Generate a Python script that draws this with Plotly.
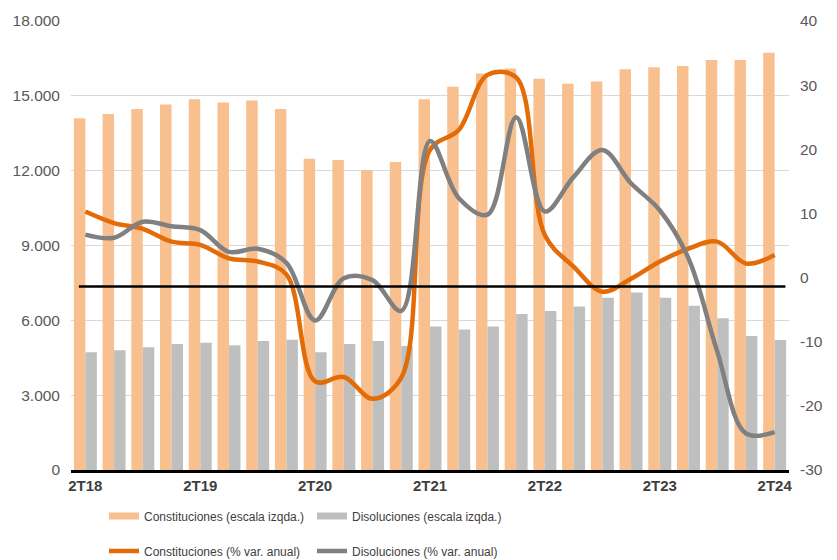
import plotly.graph_objects as go

categories = ["2T18", "3T18", "4T18", "1T19", "2T19", "3T19", "4T19", "1T20", "2T20", "3T20", "4T20", "1T21",
              "2T21", "3T21", "4T21", "1T22", "2T22", "3T22", "4T22", "1T23", "2T23", "3T23", "4T23", "1T24", "2T24"]
tick_labels = ["2T18", "2T19", "2T20", "2T21", "2T22", "2T23", "2T24"]

constituciones = [14100, 14270, 14470, 14650, 14860, 14730, 14810, 14470, 12480, 12430, 12030, 12350,
                  14860, 15360, 15900, 16100, 15680, 15480, 15570, 16070, 16150, 16200, 16440, 16440, 16730]
disoluciones = [4720, 4800, 4920, 5050, 5100, 5000, 5170, 5220, 4720, 5050, 5170, 4970,
                5750, 5630, 5750, 6250, 6370, 6550, 6910, 7120, 6910, 6580, 6080, 5370, 5210]
constituciones_var = [10.3, 8.5, 7.6, 5.6, 5.1, 3.0, 2.5, 0.5, -16.2, -15.5, -18.9, -15.6,
                      19.9, 23.0, 31.6, 31.2, 6.6, 1.7, -2.2, -0.2, 2.5, 4.5, 5.6, 2.2, 3.5]
disoluciones_var = [6.7, 6.2, 8.7, 8.0, 7.4, 4.0, 4.5, 2.3, -6.7, -0.1, -0.4, -5.2,
                    21.3, 12.4, 9.8, 25.0, 10.3, 15.7, 19.9, 14.7, 10.5, 3.0, -11.5, -24.3, -24.1]

left_ticks = [0, 3000, 6000, 9000, 12000, 15000, 18000]
right_ticks = [-30, -20, -10, 0, 10, 20, 30, 40]
right_tick_text = ["-30", "-20", "-10", "0", "10", "20", "30", "40"]
reference_level = -1.4  # horizontal black reference line (right scale)

name_const_bar = "Constituciones (escala izqda.)"
name_dis_bar = "Disoluciones (escala izqda.)"
name_const_var = "Constituciones (% var. anual)"
name_dis_var = "Disoluciones (% var. anual)"

C_BAR_OR = "#F9C08F"
C_BAR_GR = "#BFBFBF"
C_LN_OR = "#E36C09"
C_LN_GR = "#808080"
FONT = "Liberation Sans, Arial"

fig = go.Figure()
fig.add_trace(go.Bar(x=categories, y=constituciones, name=name_const_bar, showlegend=False,
                     marker=dict(color=C_BAR_OR, line=dict(width=0))))
fig.add_trace(go.Bar(x=categories, y=disoluciones, name=name_dis_bar, showlegend=False,
                     marker=dict(color=C_BAR_GR, line=dict(width=0))))
fig.add_trace(go.Scatter(x=categories, y=constituciones_var, name=name_const_var,
                         yaxis="y2", mode="lines", line=dict(color=C_LN_OR, width=4.5, shape="spline", smoothing=1),
                         legend="legend2"))
fig.add_trace(go.Scatter(x=categories, y=disoluciones_var, name=name_dis_var,
                         yaxis="y2", mode="lines", line=dict(color=C_LN_GR, width=4.5, shape="spline", smoothing=1),
                         legend="legend2"))
# legend proxies for the bar series (wide flat swatches as in the original)
fig.add_trace(go.Scatter(x=[None], y=[None], name=name_const_bar, mode="lines",
                         line=dict(color=C_BAR_OR, width=7), legend="legend", hoverinfo="skip"))
fig.add_trace(go.Scatter(x=[None], y=[None], name=name_dis_bar, mode="lines",
                         line=dict(color=C_BAR_GR, width=7), legend="legend", hoverinfo="skip"))

fig.add_shape(type="line", xref="paper", yref="y2", x0=0.011, x1=0.995, y0=reference_level, y1=reference_level,
              line=dict(color="black", width=2.5), layer="above")

legend_common = dict(orientation="h", xref="container", yref="container", xanchor="left", yanchor="middle",
                     entrywidth=163, itemwidth=30, bgcolor="rgba(0,0,0,0)",
                     font=dict(family=FONT, size=12, color="#404040"))

fig.update_layout(
    width=837, height=560,
    margin=dict(l=71, r=48, t=21, b=90),
    paper_bgcolor="white", plot_bgcolor="white",
    separators=",.",
    barmode="group", bargap=0.2, bargroupgap=0,
    font=dict(family=FONT, color="#595959"),
    xaxis=dict(type="category", tickmode="array", tickvals=tick_labels, ticktext=tick_labels,
               showgrid=False, ticks="", showline=True, linecolor="black", linewidth=2.5, automargin=False,
               tickfont=dict(family=FONT, size=15, color="#404040", weight="bold"),
               range=[-0.5, 24.5]),
    yaxis=dict(range=[0, 18000], tickvals=left_ticks, tickformat=",d", showgrid=True, gridcolor="#D9D9D9",
               gridwidth=1, zeroline=False, ticks="", automargin=False, ticklabelstandoff=10,
               tickfont=dict(size=15.5, color="#595959")),
    yaxis2=dict(range=[-30, 40], overlaying="y", side="right", tickvals=right_ticks, ticktext=right_tick_text,
                showgrid=False, zeroline=False, ticks="", automargin=False, ticklabelstandoff=10,
                tickfont=dict(size=15.5, color="#595959")),
    legend=dict(x=104 / 837, y=1 - 516 / 560, **legend_common),
    legend2=dict(x=104 / 837, y=1 - 551 / 560, **legend_common),
)

fig.write_html("out.html", config={"displayModeBar": False},
               post_script="document.body.style.margin='0';")
